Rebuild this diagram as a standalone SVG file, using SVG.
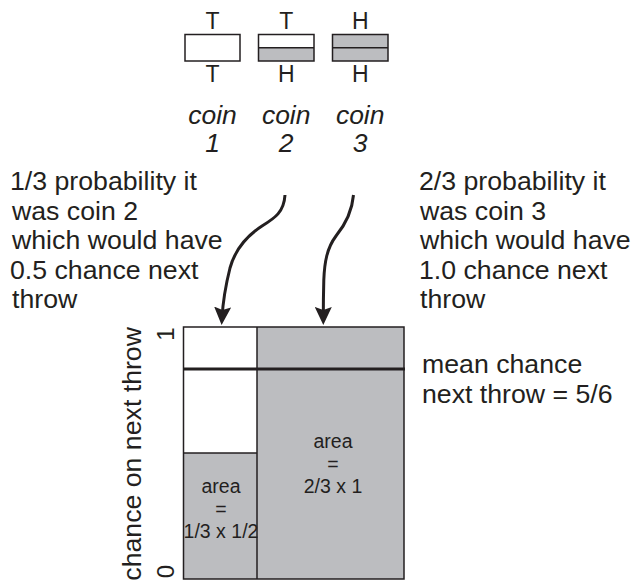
<svg xmlns="http://www.w3.org/2000/svg" width="644" height="581" viewBox="0 0 644 581">
<style>
text{font-family:"Liberation Sans",Arial,sans-serif;fill:#231f20}
.big{font-size:26.7px}
.lab{font-size:23px;text-anchor:middle}
.coin{font-size:26.5px;font-style:italic;text-anchor:middle}
.area{font-size:19.5px;text-anchor:middle}
.box{stroke:#231f20;stroke-width:1.5}
.gray{fill:#bcbdc0}
.conn{fill:none;stroke:#231f20;stroke-width:3}
</style>
<defs>
<marker id="ah" viewBox="0 0 18 17" refX="11" refY="8.5" markerWidth="18" markerHeight="17" markerUnits="userSpaceOnUse" orient="auto">
<path d="M0,0 L18,8.5 L0,17 L3,8.5 z" fill="#231f20"/>
</marker>
</defs>
<rect width="644" height="581" fill="#fff"/>

<g id="coin1">
<rect class="box" x="185" y="34.5" width="55" height="26.5" fill="#fff"/>
<text class="lab" x="212.5" y="29">T</text>
<text class="lab" x="212.5" y="82">T</text>
<text class="coin" x="212.5" y="124">coin</text>
<text class="coin" x="212.5" y="152">1</text>
</g>
<g id="coin2">
<rect x="258.5" y="47.75" width="55.5" height="13.25" class="gray"/>
<rect class="box" x="258.5" y="34.5" width="55.5" height="26.5" fill="none"/>
<line class="box" x1="258.5" y1="47.75" x2="314" y2="47.75"/>
<text class="lab" x="286.2" y="29">T</text>
<text class="lab" x="286.2" y="82">H</text>
<text class="coin" x="286.2" y="124">coin</text>
<text class="coin" x="286.2" y="152">2</text>
</g>
<g id="coin3">
<rect class="box gray" x="332.5" y="34.5" width="55.5" height="26.5"/>
<line class="box" x1="332.5" y1="47.75" x2="388" y2="47.75"/>
<text class="lab" x="360.2" y="29">H</text>
<text class="lab" x="360.2" y="82">H</text>
<text class="coin" x="360.2" y="124">coin</text>
<text class="coin" x="360.2" y="152">3</text>
</g>

<g id="note-left">
<text class="big" x="10" y="190">1/3 probability it</text>
<text class="big" x="12" y="219.5">was coin 2</text>
<text class="big" x="12" y="249">which would have</text>
<text class="big" x="10" y="278.5">0.5 chance next</text>
<text class="big" x="12" y="308">throw</text>
</g>
<g id="note-right">
<text class="big" x="419" y="190">2/3 probability it</text>
<text class="big" x="420" y="219.5">was coin 3</text>
<text class="big" x="420" y="249">which would have</text>
<text class="big" x="419" y="278.5">1.0 chance next</text>
<text class="big" x="420" y="308">throw</text>
</g>

<g id="chart">
<rect x="183.5" y="453" width="73.5" height="126" class="gray"/>
<rect x="257" y="327" width="147" height="252" class="gray"/>
<rect class="box" x="183.5" y="327" width="220.5" height="252" fill="none"/>
<line class="box" x1="257" y1="327" x2="257" y2="579"/>
<line class="box" x1="183.5" y1="453" x2="257" y2="453"/>
<text class="area" x="221" y="493">area</text>
<text class="area" x="221" y="515.5">=</text>
<text class="area" x="221" y="538">1/3 x 1/2</text>
<text class="area" x="333" y="448">area</text>
<text class="area" x="333" y="470.5">=</text>
<text class="area" x="333" y="493">2/3 x 1</text>
<text transform="translate(173.5,334) rotate(-90)" text-anchor="middle" font-size="24">1</text>
<text transform="translate(173.5,571.5) rotate(-90)" text-anchor="middle" font-size="24">0</text>
<text class="big" transform="translate(141,327) rotate(-90)" text-anchor="end">chance on next throw</text>
</g>

<g id="mean">
<line x1="183.5" y1="369" x2="405" y2="369" stroke="#231f20" stroke-width="3"/>
<text class="big" x="422" y="373">mean chance</text>
<text class="big" x="422" y="402.5">next throw = 5/6</text>
</g>

<g id="connectors">
<path class="conn" marker-end="url(#ah)" d="M285,195 C284,212 275,218 262,226 C245,237 235,250 230,268 C226,284 223,300 222,318"/>
<path class="conn" marker-end="url(#ah)" d="M353.5,195 C352,212 345,225 336,236 C327,248 324.5,262 323.8,280 C323.4,295 323.3,305 323.3,318"/>
</g>
</svg>
